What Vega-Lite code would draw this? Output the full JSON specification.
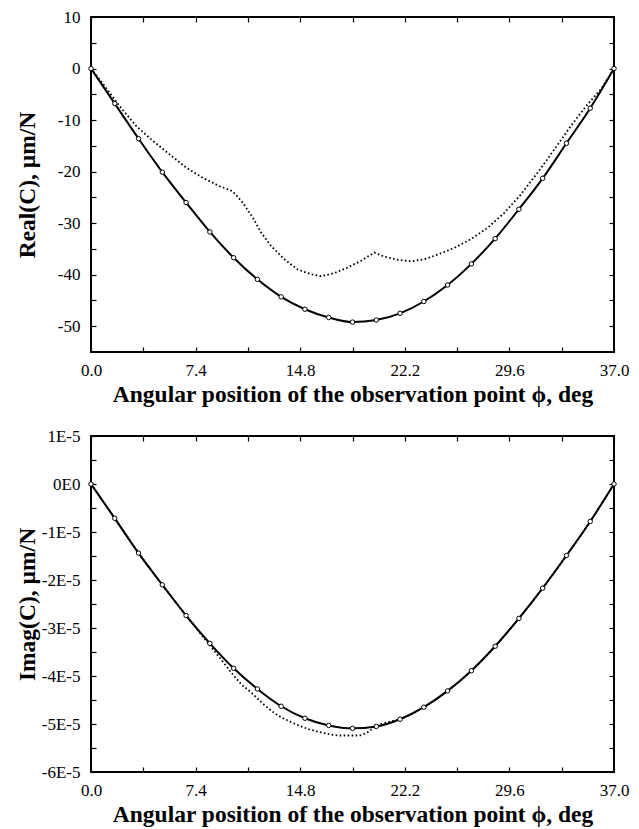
{
  "$schema": "https://vega.github.io/schema/vega-lite/v6.json",
  "padding": {"left": 14, "top": 7, "right": 5, "bottom": 5},
  "background": "white",
  "config": {
    "view": {"stroke": "black", "strokeWidth": 2},
    "font": "Liberation Serif",
    "axis": {
      "labelFont": "Liberation Serif", "labelFontSize": 17, "labelColor": "black",
      "titleFont": "Liberation Serif", "titleFontSize": 23.5, "titleFontWeight": "bold", "titleColor": "black",
      "domain": false, "grid": false, "tickColor": "black", "tickWidth": 1.2, "tickSize": 5, "offset": -5,
      "labelFlush": false, "labelOverlap": false, "labelBound": false
    }
  },
  "datasets": {
    "realSolid": [
      {"phi": 0, "c": 0}, {"phi": 1.6818, "c": -6.8}, {"phi": 3.3636, "c": -13.6}, {"phi": 5.0455, "c": -20.1},
      {"phi": 6.7273, "c": -26.0}, {"phi": 8.4091, "c": -31.7}, {"phi": 10.0909, "c": -36.7}, {"phi": 11.7727, "c": -40.9},
      {"phi": 13.4545, "c": -44.3}, {"phi": 15.1364, "c": -46.7}, {"phi": 16.8182, "c": -48.3}, {"phi": 18.5, "c": -49.2},
      {"phi": 20.1818, "c": -48.8}, {"phi": 21.8636, "c": -47.5}, {"phi": 23.5455, "c": -45.2}, {"phi": 25.2273, "c": -42.0},
      {"phi": 26.9091, "c": -37.9}, {"phi": 28.5909, "c": -33.0}, {"phi": 30.2727, "c": -27.3}, {"phi": 31.9545, "c": -21.3},
      {"phi": 33.6364, "c": -14.5}, {"phi": 35.3182, "c": -7.7}, {"phi": 37, "c": 0}
    ],
    "realDotted": [
      {"phi": 0, "c": 0}, {"phi": 0.83, "c": -2.9}, {"phi": 2.0, "c": -7.2}, {"phi": 3.18, "c": -11.1},
      {"phi": 4.36, "c": -14.0}, {"phi": 5.54, "c": -16.6}, {"phi": 6.72, "c": -19.2}, {"phi": 7.9, "c": -21.2},
      {"phi": 9.08, "c": -22.8}, {"phi": 10.02, "c": -23.8}, {"phi": 10.73, "c": -26.0}, {"phi": 11.44, "c": -28.9},
      {"phi": 12.03, "c": -31.8}, {"phi": 12.73, "c": -34.4}, {"phi": 13.68, "c": -37.0}, {"phi": 14.62, "c": -39.0},
      {"phi": 15.56, "c": -39.9}, {"phi": 16.27, "c": -40.3}, {"phi": 17.21, "c": -39.7}, {"phi": 18.16, "c": -38.6},
      {"phi": 19.1, "c": -37.3}, {"phi": 20.04, "c": -35.7}, {"phi": 20.75, "c": -36.5}, {"phi": 21.7, "c": -37.1},
      {"phi": 22.64, "c": -37.4}, {"phi": 23.58, "c": -37.0}, {"phi": 24.53, "c": -36.1}, {"phi": 25.7, "c": -34.8},
      {"phi": 26.88, "c": -33.1}, {"phi": 28.06, "c": -30.9}, {"phi": 29.24, "c": -28.0}, {"phi": 30.42, "c": -24.4},
      {"phi": 31.6, "c": -20.2}, {"phi": 32.78, "c": -15.7}, {"phi": 33.96, "c": -11.1}, {"phi": 35.14, "c": -6.9},
      {"phi": 36.08, "c": -4.0}, {"phi": 37, "c": 0}
    ],
    "imagSolid": [
      {"phi": 0, "c": 0}, {"phi": 1.6818, "c": -0.00000715}, {"phi": 3.3636, "c": -0.0000144}, {"phi": 5.0455, "c": -0.000021},
      {"phi": 6.7273, "c": -0.0000274}, {"phi": 8.4091, "c": -0.0000332}, {"phi": 10.0909, "c": -0.0000384}, {"phi": 11.7727, "c": -0.0000427},
      {"phi": 13.4545, "c": -0.0000463}, {"phi": 15.1364, "c": -0.0000488}, {"phi": 16.8182, "c": -0.0000503}, {"phi": 18.5, "c": -0.0000509},
      {"phi": 20.1818, "c": -0.0000505}, {"phi": 21.8636, "c": -0.000049}, {"phi": 23.5455, "c": -0.0000465}, {"phi": 25.2273, "c": -0.0000431},
      {"phi": 26.9091, "c": -0.0000389}, {"phi": 28.5909, "c": -0.0000338}, {"phi": 30.2727, "c": -0.000028}, {"phi": 31.9545, "c": -0.0000217},
      {"phi": 33.6364, "c": -0.0000149}, {"phi": 35.3182, "c": -0.0000078}, {"phi": 37, "c": 0}
    ],
    "imagDotted": [
      {"phi": 0, "c": 0}, {"phi": 1.6818, "c": -0.00000715}, {"phi": 3.3636, "c": -0.0000144}, {"phi": 5.0455, "c": -0.000021},
      {"phi": 6.7273, "c": -0.0000274}, {"phi": 8.0, "c": -0.0000321}, {"phi": 9.0, "c": -0.0000358}, {"phi": 10.1, "c": -0.0000399},
      {"phi": 10.6, "c": -0.0000416}, {"phi": 11.32, "c": -0.0000434}, {"phi": 12.03, "c": -0.0000454}, {"phi": 12.97, "c": -0.0000477},
      {"phi": 14.15, "c": -0.0000496}, {"phi": 15.33, "c": -0.000051}, {"phi": 16.5, "c": -0.0000519}, {"phi": 17.69, "c": -0.0000524},
      {"phi": 18.87, "c": -0.0000524}, {"phi": 19.58, "c": -0.0000517}, {"phi": 20.05, "c": -0.0000507}, {"phi": 20.5, "c": -0.00005},
      {"phi": 21.0, "c": -0.0000496}, {"phi": 21.8636, "c": -0.000049}, {"phi": 23.5455, "c": -0.0000465}, {"phi": 25.2273, "c": -0.0000431},
      {"phi": 26.9091, "c": -0.0000389}, {"phi": 28.5909, "c": -0.0000338}, {"phi": 30.2727, "c": -0.000028}, {"phi": 31.9545, "c": -0.0000217},
      {"phi": 33.6364, "c": -0.0000149}, {"phi": 35.3182, "c": -0.0000078}, {"phi": 37, "c": 0}
    ]
  },
  "spacing": 84,
  "bounds": "flush",
  "vconcat": [
    {
      "width": 523, "height": 335,
      "layer": [
        {
          "data": {"name": "realDotted"},
          "mark": {"type": "line", "color": "black", "strokeWidth": 1.8, "strokeDash": [1.6, 2.4]},
          "encoding": {
            "x": {"field": "phi", "type": "quantitative", "scale": {"domain": [0, 37], "nice": false, "zero": false},
              "axis": {"orient": "bottom", "offset": -5, "tickSize": 5, "values": [0, 3.7, 7.4, 11.1, 14.8, 18.5, 22.2, 25.9, 29.6, 33.3, 37],
                "labelExpr": "indexof([0, 7.4, 14.8, 22.2, 29.6, 37], datum.value) >= 0 ? format(datum.value, '.1f') : ''",
                "labelFont": "Liberation Serif", "labelFontSize": 17, "labelPadding": 23, "labelBaseline": "alphabetic",
                "title": "Angular position of the observation point ϕ, deg", "titleY": 54, "titleBaseline": "alphabetic"}},
            "y": {"field": "c", "type": "quantitative", "scale": {"domain": [-55, 10], "nice": false, "zero": false},
              "axis": {"orient": "left", "offset": -5, "tickSize": 5, "values": [-50, -45, -40, -35, -30, -25, -20, -15, -10, -5, 0, 5, 10],
                "labelExpr": "datum.value % 10 === 0 ? '' + datum.value : ''",
                "labelFont": "Liberation Serif", "labelFontSize": 17, "labelPadding": 11,
                "title": "Real(C), µm/N", "titleX": -69, "titleBaseline": "middle"}}
          }
        },
        {
          "data": {"name": "realSolid"},
          "mark": {"type": "line", "color": "black", "strokeWidth": 2, "interpolate": "monotone"},
          "encoding": {
            "x": {"field": "phi", "type": "quantitative",
              "axis": {"orient": "top", "offset": -5, "tickSize": 5, "values": [0, 3.7, 7.4, 11.1, 14.8, 18.5, 22.2, 25.9, 29.6, 33.3, 37], "labels": false, "title": null}},
            "y": {"field": "c", "type": "quantitative",
              "axis": {"orient": "right", "offset": -5, "tickSize": 5, "values": [-50, -45, -40, -35, -30, -25, -20, -15, -10, -5, 0, 5, 10], "labels": false, "title": null}}
          }
        },
        {
          "data": {"name": "realSolid"},
          "mark": {"type": "point", "shape": "circle", "filled": true, "fill": "white", "stroke": "black", "strokeWidth": 1, "size": 20, "opacity": 1},
          "encoding": {
            "x": {"field": "phi", "type": "quantitative", "axis": null},
            "y": {"field": "c", "type": "quantitative", "axis": null}
          }
        }
      ],
      "resolve": {"axis": {"x": "independent", "y": "independent"}}
    },
    {
      "width": 523, "height": 336,
      "layer": [
        {
          "data": {"name": "imagDotted"},
          "mark": {"type": "line", "color": "black", "strokeWidth": 1.8, "strokeDash": [1.6, 2.4], "interpolate": "monotone"},
          "encoding": {
            "x": {"field": "phi", "type": "quantitative", "scale": {"domain": [0, 37], "nice": false, "zero": false},
              "axis": {"orient": "bottom", "offset": -5, "tickSize": 5, "values": [0, 3.7, 7.4, 11.1, 14.8, 18.5, 22.2, 25.9, 29.6, 33.3, 37],
                "labelExpr": "indexof([0, 7.4, 14.8, 22.2, 29.6, 37], datum.value) >= 0 ? format(datum.value, '.1f') : ''",
                "labelFont": "Liberation Serif", "labelFontSize": 17, "labelPadding": 23, "labelBaseline": "alphabetic",
                "title": "Angular position of the observation point ϕ, deg", "titleY": 54, "titleBaseline": "alphabetic"}},
            "y": {"field": "c", "type": "quantitative", "scale": {"domain": [-0.00006, 0.00001], "nice": false, "zero": false},
              "axis": {"orient": "left", "offset": -5, "tickSize": 5, "values": [-0.00006, -0.000055, -0.00005, -0.000045, -0.00004, -0.000035, -0.00003, -0.000025, -0.00002, -0.000015, -0.00001, -0.000005, 0, 0.000005, 0.00001],
                "labelExpr": "abs(datum.value * 100000 - round(datum.value * 100000)) < 0.01 ? (round(datum.value * 100000) == 0 ? '0E0' : round(datum.value * 100000) + 'E-5') : ''",
                "labelFont": "Liberation Serif", "labelFontSize": 17, "labelPadding": 11,
                "title": "Imag(C), µm/N", "titleX": -69, "titleBaseline": "middle"}}
          }
        },
        {
          "data": {"name": "imagSolid"},
          "mark": {"type": "line", "color": "black", "strokeWidth": 2, "interpolate": "monotone"},
          "encoding": {
            "x": {"field": "phi", "type": "quantitative",
              "axis": {"orient": "top", "offset": -5, "tickSize": 5, "values": [0, 3.7, 7.4, 11.1, 14.8, 18.5, 22.2, 25.9, 29.6, 33.3, 37], "labels": false, "title": null}},
            "y": {"field": "c", "type": "quantitative",
              "axis": {"orient": "right", "offset": -5, "tickSize": 5, "values": [-0.00006, -0.000055, -0.00005, -0.000045, -0.00004, -0.000035, -0.00003, -0.000025, -0.00002, -0.000015, -0.00001, -0.000005, 0, 0.000005, 0.00001], "labels": false, "title": null}}
          }
        },
        {
          "data": {"name": "imagSolid"},
          "mark": {"type": "point", "shape": "circle", "filled": true, "fill": "white", "stroke": "black", "strokeWidth": 1, "size": 20, "opacity": 1},
          "encoding": {
            "x": {"field": "phi", "type": "quantitative", "axis": null},
            "y": {"field": "c", "type": "quantitative", "axis": null}
          }
        }
      ],
      "resolve": {"axis": {"x": "independent", "y": "independent"}}
    }
  ]
}
